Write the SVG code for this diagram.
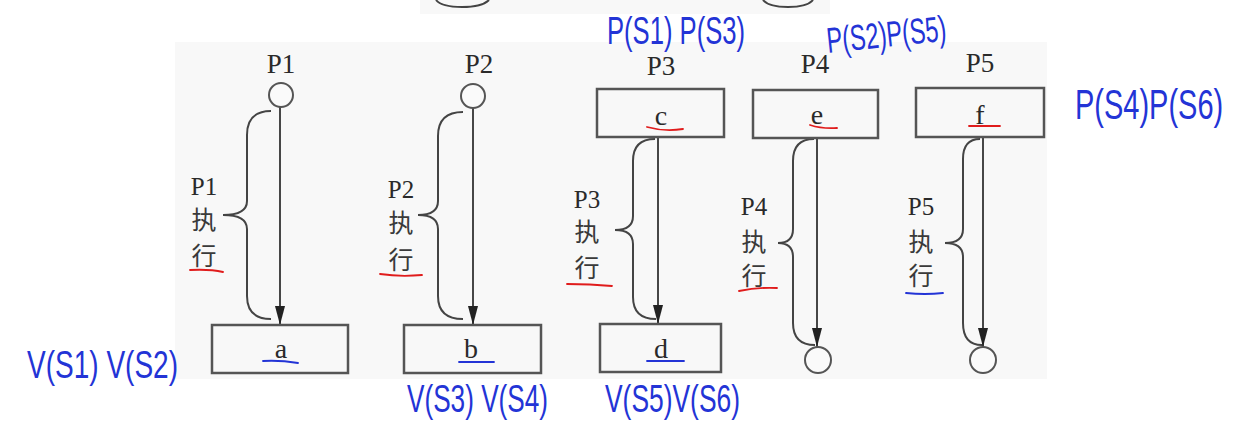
<svg xmlns="http://www.w3.org/2000/svg" width="1237" height="428" viewBox="0 0 1237 428">
<defs>
<marker id="arr" markerUnits="userSpaceOnUse" markerWidth="20" markerHeight="10" refX="19" refY="5" orient="auto">
<path d="M0,0 L19,5 L0,10 z" fill="#222"/>
</marker>
<style>
.bg{fill:#f8f8f8}
.box{fill:none;stroke:#555;stroke-width:2.5}
.circ{fill:#fafafa;stroke:#555;stroke-width:2}
.line{fill:none;stroke:#333;stroke-width:1.8}
.brace{fill:none;stroke:#444;stroke-width:2}
.lbl{font-family:"Liberation Serif",serif;font-size:27px;fill:#2a2a2a;text-anchor:middle}
.let{font-family:"Liberation Serif",serif;font-size:28px;fill:#2a2a2a;text-anchor:middle}
.side{font-family:"Liberation Serif",serif;font-size:25px;fill:#2a2a2a;text-anchor:middle}
.cjk{font-family:"Noto Sans CJK SC",sans-serif;font-size:25px;fill:#3a3a3a;text-anchor:middle}
.hw{font-family:"Liberation Sans",sans-serif;fill:#2334d6;font-weight:normal}
.ur{fill:none;stroke:#e01c1c;stroke-width:1.8;stroke-linecap:round}
.ub{fill:none;stroke:#2334d6;stroke-width:1.8;stroke-linecap:round}
</style>
</defs>
<rect x="0" y="0" width="1237" height="428" fill="#ffffff"/>
<rect class="bg" x="420" y="0" width="410" height="14"/>
<rect class="bg" x="175" y="42" width="872" height="337"/>
<path class="brace" d="M436,0 C440,5 450,7 462,7 C474,7 484,5 489,0"/>
<path class="brace" d="M763,0 C767,5 777,7 788,7 C800,7 809,5 813,0"/>

<g id="connectors">
<path class="line" d="M280,107 L280,325" marker-end="url(#arr)"/>
<path class="line" d="M473,108 L473,325" marker-end="url(#arr)"/>
<path class="line" d="M658,137 L658,324" marker-end="url(#arr)"/>
<path class="line" d="M817,138 L817,347" marker-end="url(#arr)"/>
<path class="line" d="M983,137 L983,347" marker-end="url(#arr)"/>
</g>

<g id="p1">
<text class="lbl" x="281" y="73">P1</text>
<circle class="circ" cx="281" cy="95" r="12"/>
<path class="brace" d="M271,111 Q247,111 247,135 L247,201 Q247,215 223,215 Q247,215 247,229 L247,296 Q247,319 271,319"/>
<text class="side" x="204" y="195">P1</text>
<text class="cjk" x="204" y="229">执</text>
<text class="cjk" x="204" y="265">行</text>
</g>
<g id="a">
<rect class="box" x="212" y="325" width="136" height="48"/>
<text class="let" x="281" y="358">a</text>
</g>

<g id="p2">
<text class="lbl" x="479" y="73">P2</text>
<circle class="circ" cx="473" cy="96" r="12"/>
<path class="brace" d="M463,112 Q438,112 438,136 L438,201 Q438,215 418,215 Q438,215 438,229 L438,296 Q438,319 463,319"/>
<text class="side" x="401" y="198">P2</text>
<text class="cjk" x="401" y="232">执</text>
<text class="cjk" x="401" y="269">行</text>
</g>
<g id="b">
<rect class="box" x="404" y="325" width="137" height="48"/>
<text class="let" x="471" y="358">b</text>
</g>

<g id="p3">
<text class="lbl" x="661" y="75">P3</text>
<path class="brace" d="M655,139 Q633,139 633,161 L633,216 Q633,230 615,230 Q633,230 633,244 L633,297 Q633,319 656,319"/>
<text class="side" x="587" y="208">P3</text>
<text class="cjk" x="587" y="241">执</text>
<text class="cjk" x="587" y="277">行</text>
</g>
<g id="c">
<rect class="box" x="597" y="89" width="127" height="48"/>
<text class="let" x="661" y="125">c</text>
</g>
<g id="d">
<rect class="box" x="600" y="324" width="121" height="48"/>
<text class="let" x="661" y="358">d</text>
</g>

<g id="p4">
<text class="lbl" x="815" y="73">P4</text>
<path class="brace" d="M814,139 Q793,139 793,161 L793,229 Q793,243 778,243 Q793,243 793,257 L793,323 Q793,345 815,345"/>
<text class="side" x="754" y="215">P4</text>
<text class="cjk" x="754" y="251">执</text>
<text class="cjk" x="754" y="285">行</text>
<circle class="circ" cx="818" cy="360" r="13"/>
</g>
<g id="e">
<rect class="box" x="753" y="90" width="125" height="48"/>
<text class="let" x="817" y="124">e</text>
</g>

<g id="p5">
<text class="lbl" x="980" y="72">P5</text>
<path class="brace" d="M980,139 Q963,139 963,159 L963,229 Q963,243 945,243 Q963,243 963,257 L963,323 Q963,345 982,345"/>
<text class="side" x="921" y="215">P5</text>
<text class="cjk" x="921" y="251">执</text>
<text class="cjk" x="921" y="285">行</text>
<circle class="circ" cx="983" cy="360" r="13"/>
</g>
<g id="f">
<rect class="box" x="916" y="88" width="128" height="49"/>
<text class="let" x="980" y="124">f</text>
</g>

<g id="annotations">
<path class="ur" d="M647,127 Q665,132 683,129"/>
<path class="ur" d="M810,125 Q822,129 837,128"/>
<path class="ur" d="M969,126 L1000,126"/>
<path class="ur" d="M190,270 Q210,269 223,272"/>
<path class="ur" d="M380,274 Q400,277 422,275"/>
<path class="ur" d="M567,284 Q590,284 612,286"/>
<path class="ur" d="M739,291 Q758,287 777,288"/>
<path class="ub" d="M906,293 Q925,295 943,293"/>
<path class="ub" d="M263,361 Q280,360 298,363"/>
<path class="ub" d="M459,362 L494,362"/>
<path class="ub" d="M647,361 L684,361"/>
<text class="hw" x="607" y="44" font-size="38" textLength="138" lengthAdjust="spacingAndGlyphs">P(S1) P(S3)</text>
<text class="hw" x="828" y="53" font-size="36" textLength="120" lengthAdjust="spacingAndGlyphs" transform="rotate(-6 828 53)">P(S2)P(S5)</text>
<text class="hw" x="0" y="0" font-size="29" transform="translate(1075,119) scale(1,1.45)">P(S4)P(S6)</text>
<text class="hw" x="27" y="378" font-size="38" textLength="151" lengthAdjust="spacingAndGlyphs">V(S1) V(S2)</text>
<text class="hw" x="407" y="412" font-size="38" textLength="141" lengthAdjust="spacingAndGlyphs">V(S3) V(S4)</text>
<text class="hw" x="605" y="412" font-size="38" textLength="135" lengthAdjust="spacingAndGlyphs">V(S5)V(S6)</text>
</g>
</svg>
